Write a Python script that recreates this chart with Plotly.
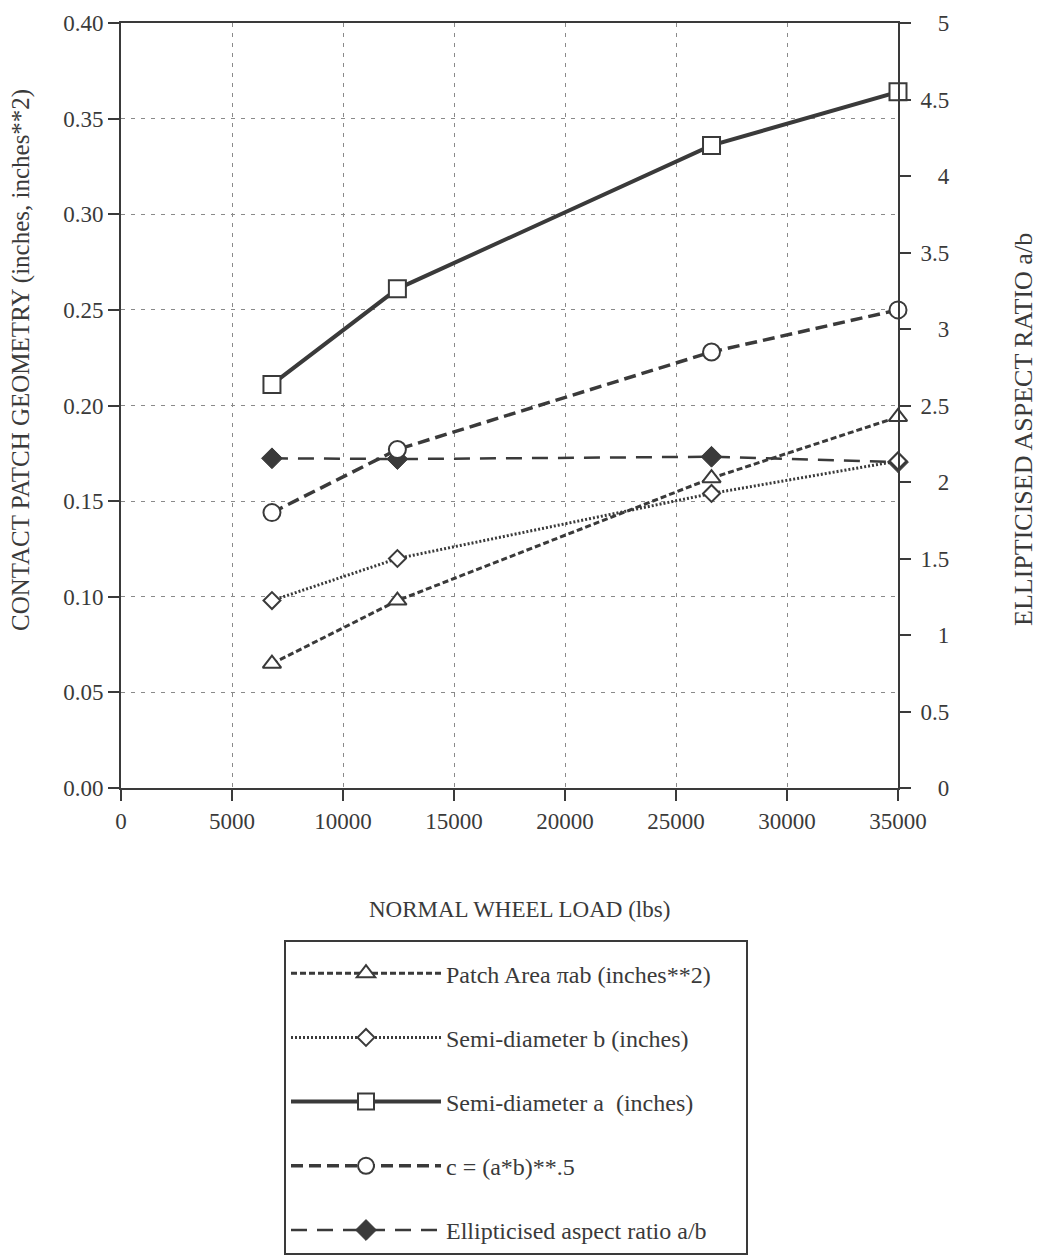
import plotly.graph_objects as go

# Normal wheel load (lbs)
loads = [6800, 12450, 26600, 35000]

# Contact patch geometry (left axis)
patch_area = [0.065, 0.098, 0.162, 0.194]   # pi*a*b, inches**2
semi_b = [0.098, 0.120, 0.154, 0.171]       # inches
semi_a = [0.211, 0.261, 0.336, 0.364]       # inches
c_mean = [0.144, 0.177, 0.228, 0.250]       # (a*b)**0.5

# Ellipticised aspect ratio a/b (right axis)
aspect_ratio = [2.155, 2.15, 2.165, 2.13]

x_ticks = [0, 5000, 10000, 15000, 20000, 25000, 30000, 35000]
left_ticks = [0.00, 0.05, 0.10, 0.15, 0.20, 0.25, 0.30, 0.35, 0.40]
right_ticks = [0, 0.5, 1, 1.5, 2, 2.5, 3, 3.5, 4, 4.5, 5]
right_labels = ["0", "0.5", "1", "1.5", "2", "2.5", "3", "3.5", "4", "4.5", "5"]

INK = "#3a3a3a"
FONT = "Liberation Serif, Times New Roman, serif"
FS = 23

# plot area in pixels (used to place the free-floating titles and legend)
W, H = 1038, 1258
L, R, T, B = 121, 140, 23, 470
PW, PH = W - L - R, H - T - B


def px(x):
    return (x - L) / PW


def py(y):
    return (H - B - y) / PH


def pad_label(s):
    # right-align the right-hand tick labels
    return "\u00a0" * (3 if len(s) == 1 else 0) + s


def open_marker(symbol, size):
    return dict(symbol=symbol, size=size, color="white",
                line=dict(color=INK, width=2))


fig = go.Figure()

fig.add_trace(go.Scatter(
    x=loads, y=patch_area, yaxis="y2", mode="lines+markers",
    name="Patch Area \u03c0ab (inches**2)" + "\u00a0" * 5, legendgroup="g1",
    line=dict(color=INK, width=3, dash="6px,3px"),
    marker=open_marker("triangle-up", 16), cliponaxis=False))

fig.add_trace(go.Scatter(
    x=loads, y=semi_b, yaxis="y2", mode="lines+markers",
    name="Semi-diameter b (inches)", legendgroup="g2",
    line=dict(color=INK, width=3, dash="2px,2px"),
    marker=open_marker("diamond", 13), cliponaxis=False))

fig.add_trace(go.Scatter(
    x=loads, y=semi_a, yaxis="y2", mode="lines+markers",
    name="Semi-diameter a\u00a0 (inches)", legendgroup="g3",
    line=dict(color=INK, width=4),
    marker=open_marker("square", 17), cliponaxis=False))

fig.add_trace(go.Scatter(
    x=loads, y=c_mean, yaxis="y2", mode="lines+markers",
    name="c = (a*b)**.5", legendgroup="g4",
    line=dict(color=INK, width=3.5, dash="12px,6px"),
    marker=open_marker("circle", 17), cliponaxis=False))

fig.add_trace(go.Scatter(
    x=loads, y=aspect_ratio, yaxis="y", mode="lines+markers",
    name="Ellipticised aspect ratio a/b", legendgroup="g5",
    line=dict(color=INK, width=2.5, dash="16px,10px"),
    marker=dict(symbol="diamond", size=16, color=INK,
                line=dict(color=INK, width=1)),
    cliponaxis=False))

tickfont = dict(family=FONT, size=FS, color=INK)

fig.update_layout(
    width=W, height=H,
    margin=dict(l=L, r=R, t=T, b=B, autoexpand=False),
    paper_bgcolor="white", plot_bgcolor="white",
    font=dict(family=FONT, size=FS, color=INK),
    xaxis=dict(
        range=[0, 35000], tickvals=x_ticks, ticktext=[str(v) for v in x_ticks],
        showline=True, linecolor=INK, linewidth=2, mirror=True,
        ticks="outside", ticklen=11, tickwidth=2, tickcolor=INK,
        showgrid=True, gridcolor="#8a8a8a", gridwidth=1, griddash="4px,6px",
        zeroline=False, tickfont=tickfont, automargin=False),
    yaxis=dict(
        range=[0, 5], side="right", tickvals=right_ticks,
        ticktext=[pad_label(s) for s in right_labels],
        showline=True, linecolor=INK, linewidth=2,
        ticks="outside", ticklen=11, tickwidth=2, tickcolor=INK,
        ticklabelstandoff=5, automargin=False,
        showgrid=False, zeroline=False, tickfont=tickfont),
    yaxis2=dict(
        range=[0, 0.40], side="left", overlaying="y", anchor="x",
        tickvals=left_ticks, ticktext=["%.2f" % v for v in left_ticks],
        showline=True, linecolor=INK, linewidth=2,
        ticks="outside", ticklen=11, tickwidth=2, tickcolor=INK,
        showgrid=True, gridcolor="#8a8a8a", gridwidth=1, griddash="4px,6px",
        zeroline=False, tickfont=tickfont, automargin=False),
    showlegend=True,
    legend=dict(
        x=px(284), y=py(940), xanchor="left", yanchor="top",
        bordercolor=INK, borderwidth=2, bgcolor="white",
        font=dict(family=FONT, size=24, color=INK),
        title=dict(text="\u00a0", font=dict(size=7)),
        tracegroupgap=30, itemwidth=150, traceorder="grouped"),
)

fig.add_annotation(
    text="CONTACT PATCH GEOMETRY (inches, inches**2)",
    xref="paper", yref="paper", x=px(21), y=py(360),
    xanchor="center", yanchor="middle", textangle=-90, showarrow=False,
    font=dict(family=FONT, size=25, color=INK))

fig.add_annotation(
    text="ELLIPTICISED ASPECT RATIO a/b",
    xref="paper", yref="paper", x=px(1023), y=py(430),
    xanchor="center", yanchor="middle", textangle=-90, showarrow=False,
    font=dict(family=FONT, size=26, color=INK))

fig.add_annotation(
    text="NORMAL WHEEL LOAD (lbs)",
    xref="paper", yref="paper", x=px(519), y=py(910),
    xanchor="center", yanchor="middle", showarrow=False,
    font=dict(family=FONT, size=FS, color=INK))

fig.write_html("out.html")
